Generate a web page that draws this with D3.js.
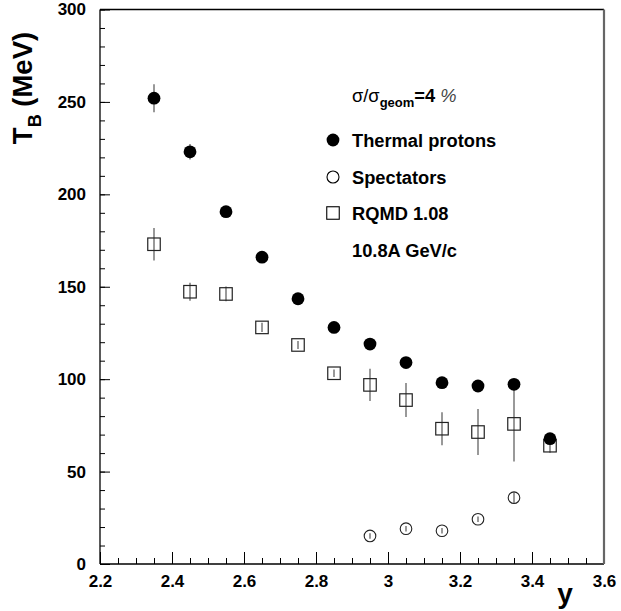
<!DOCTYPE html>
<html>
<head>
<meta charset="utf-8">
<script src="https://cdn.jsdelivr.net/npm/d3@7"></script>
<style>
  html, body { margin: 0; padding: 0; background: #fff; }
  svg { display: block; font-family: "Liberation Sans", Arial, Helvetica, sans-serif; }
</style>
</head>
<body>
<svg id="chart"></svg>
<script>
const rapidity = [2.35, 2.45, 2.55, 2.65, 2.75, 2.85, 2.95, 3.05, 3.15, 3.25, 3.35, 3.45];

// thermal protons (filled circles)
const thermalT   = [252, 223, 190.6, 166, 143.5, 128, 119, 109, 98.1, 96.3, 97.2, 67.8];
const thermalErr = [7.6, 4.2, 2, 2, 2, 2, 2, 2, 2, 2, 2, 2];

// RQMD 1.08 (open squares)
const rqmdT   = [173, 147.3, 146.1, 128, 118.5, 103.2, 96.9, 88.7, 73.2, 71.4, 75.8, 64.0];
const rqmdErr = [8.8, 4.9, 4, 2.5, 2.2, 2, 8.7, 9.2, 8.9, 12.4, 20.3, 3.8];

// spectators (open circles)
const specY   = [2.95, 3.05, 3.15, 3.25, 3.35];
const specT   = [15.2, 19.1, 18.0, 24.2, 35.9];
const specErr = [1.5, 1.5, 1.5, 1.5, 2.9];

const xTicks = [2.2, 2.4, 2.6, 2.8, 3.0, 3.2, 3.4, 3.6];
const xTickLabels = ["2.2", "2.4", "2.6", "2.8", "3", "3.2", "3.4", "3.6"];
const yTicks = [0, 50, 100, 150, 200, 250, 300];

const legendItems = ["Thermal protons", "Spectators", "RQMD 1.08"];

const width = 621, height = 611;
const svg = d3.select("#chart").attr("width", width).attr("height", height);

const x = d3.scaleLinear().domain([2.2, 3.6]).range([100, 604]);
const y = d3.scaleLinear().domain([0, 300]).range([564, 9.5]);

const fontSize = 17;

// minor ticks
svg.append("g")
    .attr("transform", `translate(0,${y(0)})`)
    .call(d3.axisBottom(x).tickValues(d3.range(2.2, 3.6001, 0.05)).tickSize(-6).tickFormat(""))
    .call(g => g.select(".domain").remove());
svg.append("g")
    .attr("transform", `translate(${x(2.2)},0)`)
    .call(d3.axisLeft(y).tickValues(d3.range(0, 300.1, 10)).tickSize(-5).tickFormat(""))
    .call(g => g.select(".domain").remove());

// major ticks + labels
const xAxis = svg.append("g")
    .attr("transform", `translate(0,${y(0)})`)
    .call(d3.axisBottom(x).tickValues(xTicks).tickSize(-12).tickPadding(11)
        .tickFormat((d, i) => xTickLabels[i]));
xAxis.select(".domain").remove();

const yAxis = svg.append("g")
    .attr("transform", `translate(${x(2.2)},0)`)
    .call(d3.axisLeft(y).tickValues(yTicks).tickSize(-10).tickPadding(14));
yAxis.select(".domain").remove();

svg.selectAll(".tick text")
    .attr("font-size", fontSize)
    .attr("font-weight", "bold")
    .attr("font-family", "Liberation Sans, Arial, sans-serif")
    .attr("fill", "#000");
svg.selectAll(".tick line").attr("stroke", "#000");

// frame
const x0 = x(2.2), x1 = x(3.6), y0 = y(0), y1 = y(300);
svg.append("line").attr("x1", x0).attr("x2", x1).attr("y1", y1).attr("y2", y1).attr("stroke", "#000").attr("stroke-width", 1.3);
svg.append("line").attr("x1", x0).attr("x2", x1).attr("y1", y0).attr("y2", y0).attr("stroke", "#000").attr("stroke-width", 1.3);
svg.append("line").attr("x1", x0).attr("x2", x0).attr("y1", y1).attr("y2", y0).attr("stroke", "#000").attr("stroke-width", 1.3);
svg.append("line").attr("x1", x1).attr("x2", x1).attr("y1", y1).attr("y2", y0).attr("stroke", "#666").attr("stroke-width", 2.2);

// data
const thermal = rapidity.map((r, i) => ({ x: r, v: thermalT[i], e: thermalErr[i] }));
const rqmd = rapidity.map((r, i) => ({ x: r, v: rqmdT[i], e: rqmdErr[i] }));
const spec = specY.map((r, i) => ({ x: r, v: specT[i], e: specErr[i] }));

function errorBars(data) {
    svg.append("g")
        .selectAll("line")
        .data(data)
        .enter().append("line")
        .attr("x1", d => x(d.x)).attr("x2", d => x(d.x))
        .attr("y1", d => y(d.v - d.e)).attr("y2", d => y(d.v + d.e))
        .attr("stroke", "#555")
        .attr("stroke-width", 1.2);
}

errorBars(rqmd);
errorBars(spec);
errorBars(thermal);

const sq = 12.5;
svg.append("g")
    .selectAll("rect")
    .data(rqmd)
    .enter().append("rect")
    .attr("x", d => x(d.x) - sq / 2)
    .attr("y", d => y(d.v) - sq / 2)
    .attr("width", sq).attr("height", sq)
    .attr("fill", "none")
    .attr("stroke", "#222")
    .attr("stroke-width", 1.2);

svg.append("g")
    .selectAll("circle")
    .data(spec)
    .enter().append("circle")
    .attr("cx", d => x(d.x)).attr("cy", d => y(d.v))
    .attr("r", 5.8)
    .attr("fill", "none")
    .attr("stroke", "#222")
    .attr("stroke-width", 1.1);

svg.append("g")
    .selectAll("circle")
    .data(thermal)
    .enter().append("circle")
    .attr("cx", d => x(d.x)).attr("cy", d => y(d.v))
    .attr("r", 6.4)
    .attr("fill", "#000");

// legend
const lg = svg.append("g").attr("font-weight", "bold").attr("font-size", 18.3);
const head = lg.append("text").attr("x", 352).attr("y", 102);
head.append("tspan").attr("font-weight", "normal").text("σ/σ");
head.append("tspan").attr("font-size", 13).attr("dy", 5).text("geom");
head.append("tspan").attr("dy", -5).text("=4 ");
head.append("tspan").attr("font-weight", "normal").attr("font-style", "italic").attr("fill", "#444").text("%");

const rowY = [140, 177, 213];
lg.append("circle").attr("cx", 333).attr("cy", rowY[0]).attr("r", 6.4).attr("fill", "#000");
lg.append("circle").attr("cx", 333).attr("cy", rowY[1]).attr("r", 6).attr("fill", "none").attr("stroke", "#000").attr("stroke-width", 1.1);
lg.append("rect").attr("x", 333 - sq / 2).attr("y", rowY[2] - sq / 2).attr("width", sq).attr("height", sq)
    .attr("fill", "none").attr("stroke", "#000").attr("stroke-width", 1.1);
legendItems.forEach((t, i) => {
    lg.append("text").attr("x", 352).attr("y", rowY[i] + 6.5).text(t);
});
lg.append("text").attr("x", 352).attr("y", 256.5).text("10.8A GeV/c");

// axis titles
svg.append("text")
    .attr("x", 565).attr("y", 603)
    .attr("text-anchor", "middle")
    .attr("font-size", 28).attr("font-weight", "bold")
    .text("y");

const yt = svg.append("text")
    .attr("transform", "translate(32,88) rotate(-90)")
    .attr("text-anchor", "middle")
    .attr("font-size", 27.5).attr("font-weight", "bold");
yt.append("tspan").text("T");
yt.append("tspan").attr("font-size", 18).attr("dy", 9).text("B");
yt.append("tspan").attr("dy", -9).text(" (MeV)");
</script>
</body>
</html>
